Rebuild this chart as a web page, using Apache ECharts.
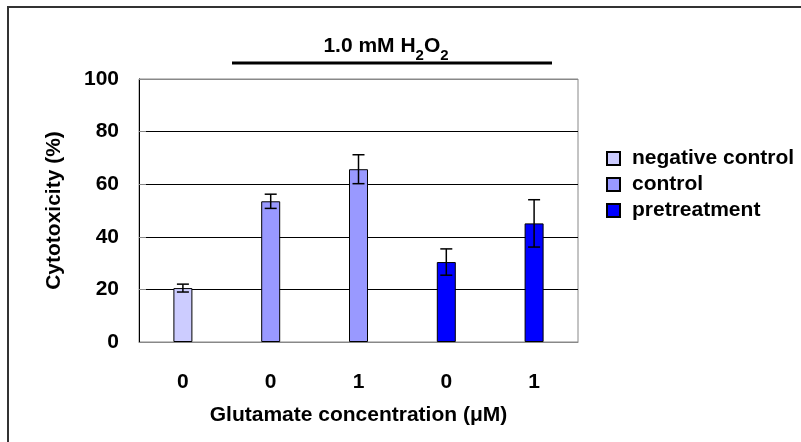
<!DOCTYPE html>
<html>
<head>
<meta charset="utf-8">
<script src="https://cdn.jsdelivr.net/npm/echarts@6/dist/echarts.min.js"></script>
<style>
  html, body { margin: 0; padding: 0; background: #fff; }
  #chart { width: 801px; height: 442px; }
</style>
</head>
<body>
<div id="chart"></div>
<script>
// Glutamate concentration (µM) for each bar
const categories = ['0', '0', '1', '0', '1'];
// Group names and the bars they own ('-' = no bar in that slot)
const groupNames = ['negative control', 'control', 'pretreatment'];
const negativeControl = [20.5, '-', '-', '-', '-'];
const control = ['-', 53.5, 65.7, '-', '-'];
const pretreatment = ['-', '-', '-', 30.4, 45.1];
// Standard deviation for each bar
const errors = [1.5, 2.7, 5.5, 5.0, 9.0];
// Y axis ticks
const yTicks = [0, 20, 40, 60, 80, 100];

const FONT = '"Liberation Sans", Arial, sans-serif';
const FS = 21;
const colors = ['#CCCCFF', '#9999FF', '#0000FF'];

const means = categories.map((_, i) =>
  [negativeControl[i], control[i], pretreatment[i]].find(x => x !== '-'));
const errData = means.map((m, i) => [i, m - errors[i], m + errors[i]]);

function barSeries(name, data, color) {
  return {
    name: name,
    type: 'bar',
    stack: 'all',
    barWidth: 19,
    data: data,
    itemStyle: { color: color, borderColor: '#000', borderWidth: 1 }
  };
}

const textBold = { fontFamily: FONT, fontWeight: 'bold', fontSize: FS, color: '#000' };

const chart = echarts.init(document.getElementById('chart'), null, { renderer: 'canvas' });
chart.setOption({
  animation: false,
  backgroundColor: '#fff',
  grid: { left: 139, right: 223, top: 79, bottom: 100, show: true, borderColor: '#888', borderWidth: 1 },
  legend: {
    orient: 'vertical',
    left: 601,
    top: 143,
    itemWidth: 13,
    itemHeight: 13,
    itemGap: 5,
    icon: 'rect',
    data: groupNames,
    textStyle: Object.assign({ padding: [0, 0, 0, 7] }, textBold)
  },
  xAxis: {
    type: 'category',
    data: categories,
    name: 'Glutamate concentration (μM)',
    nameLocation: 'middle',
    nameGap: 63,
    nameTextStyle: textBold,
    axisLine: { lineStyle: { color: '#888', width: 1 } },
    axisTick: { show: false },
    axisLabel: Object.assign({ margin: 30 }, textBold)
  },
  yAxis: {
    type: 'value',
    min: yTicks[0],
    max: yTicks[yTicks.length - 1],
    interval: yTicks[1] - yTicks[0],
    name: 'Cytotoxicity (%)',
    nameLocation: 'middle',
    nameGap: 74,
    nameTextStyle: textBold,
    axisLine: { show: true, lineStyle: { color: '#000', width: 1 } },
    axisTick: { show: true, inside: true, length: 7, lineStyle: { color: '#888' } },
    axisLabel: Object.assign({ margin: 20 }, textBold),
    splitLine: {
      show: true,
      lineStyle: { color: ['#888', '#000', '#000', '#000', '#000', '#888'], width: 1 }
    }
  },
  series: [
    barSeries(groupNames[0], negativeControl, colors[0]),
    barSeries(groupNames[1], control, colors[1]),
    barSeries(groupNames[2], pretreatment, colors[2]),
    {
      type: 'custom',
      name: 'error',
      data: errData,
      z: 10,
      renderItem: function (params, api) {
        const x = api.value(0);
        const lo = api.coord([x, api.value(1)]);
        const hi = api.coord([x, api.value(2)]);
        const half = 6;
        const style = { stroke: '#000', lineWidth: 1.5 };
        return {
          type: 'group',
          children: [
            { type: 'line', shape: { x1: lo[0], y1: lo[1], x2: hi[0], y2: hi[1] }, style: style },
            { type: 'line', shape: { x1: lo[0] - half, y1: lo[1], x2: lo[0] + half, y2: lo[1] }, style: style },
            { type: 'line', shape: { x1: hi[0] - half, y1: hi[1], x2: hi[0] + half, y2: hi[1] }, style: style }
          ]
        };
      }
    }
  ],
  graphic: [
    {
      type: 'polyline',
      shape: { points: [[8, 442], [8, 7], [801, 7]] },
      style: { stroke: '#333', lineWidth: 2, fill: null }
    },
    {
      type: 'text',
      x: 386,
      y: 30,
      style: {
        text: '{m|1.0 mM H}{s|2}{m|O}{s|2}',
        align: 'center',
        rich: {
          m: { fontFamily: FONT, fontWeight: 'bold', fontSize: FS, color: '#000', lineHeight: 26 },
          s: { fontFamily: FONT, fontWeight: 'bold', fontSize: 15, color: '#000', lineHeight: 33, verticalAlign: 'bottom' }
        }
      }
    },
    {
      type: 'line',
      shape: { x1: 232, y1: 63, x2: 552, y2: 63 },
      style: { stroke: '#000', lineWidth: 3 }
    }
  ]
});
</script>
</body>
</html>
